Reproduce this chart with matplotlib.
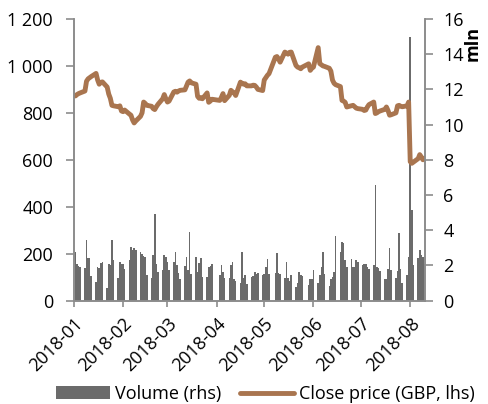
import matplotlib
matplotlib.use('Agg')
import matplotlib.pyplot as plt
from matplotlib.patches import Patch
from matplotlib.lines import Line2D
import pandas as pd

plt.rcParams['font.family'] = ['Open Sans', 'DejaVu Sans']
plt.rcParams['font.size'] = 13

# trading days (UK), Jan 2 - Aug 10 2018
holidays = ['2018-03-30', '2018-04-02', '2018-05-07', '2018-05-28']
days = pd.bdate_range('2018-01-02', '2018-08-10')
days = days[~days.isin(pd.to_datetime(holidays))]

# close price, GBP (left axis), one value per trading day, month by month
close_jan = [872, 878, 882, 885, 893, 935, 945, 950, 955, 968, 940, 922, 930, 932,
             910, 880, 862, 832, 830, 826, 830, 808]
close_feb = [805, 812, 795, 790, 770, 757, 765, 785, 800, 846, 840, 832, 828, 818,
             814, 826, 836, 860, 878, 860]
close_mar = [846, 850, 889, 892, 888, 893, 896, 898, 915, 931, 936, 928, 922, 870,
             862, 865, 860, 885, 845, 850, 858]
close_apr = [853, 866, 882, 852, 875, 896, 890, 885, 874, 931, 926, 922, 924, 915,
             915, 918, 917, 910, 900, 895]
close_may = [940, 950, 960, 967, 1037, 1040, 1030, 1016, 1059, 1055, 1050, 1058, 1059,
             1002, 995, 992, 988, 995, 1009, 981, 990]
close_jun = [995, 1078, 1010, 1005, 1000, 998, 990, 978, 940, 926, 920, 912, 853, 850,
             845, 825, 830, 832, 826, 820, 818]
close_jul = [815, 810, 812, 825, 835, 846, 797, 800, 805, 808, 815, 825, 810, 790,
             792, 800, 830, 832, 828, 826, 830, 846]
close_aug = [592, 585, 590, 605, 622, 612, 600, 606]

# volume, mln shares (right axis)
vol_jan = [2.77, 2.1, 1.96, 1.9, 1.83, 3.45, 2.4, 2.43, 1.4, 1.07, 1.9, 1.85, 2.15, 2.2,
           0.69, 2.07, 2.0, 3.44, 2.3, 1.26, 2.2, 2.1]
vol_feb = [2.05, 1.8, 2.3, 3.06, 2.87, 2.97, 2.9, 2.74, 2.65, 2.53, 2.5, 1.45, 1.3, 2.6,
           4.9, 2.1, 1.6, 1.73, 2.58, 2.45]
vol_mar = [2.2, 1.73, 2.2, 2.77, 2.0, 1.55, 1.25, 1.95, 2.45, 1.75, 3.9, 1.5, 2.45, 1.64,
           2.15, 2.4, 1.35, 1.35, 1.92, 1.95, 2.07]
vol_apr = [1.45, 2.0, 1.64, 1.26, 1.26, 2.0, 2.2, 1.2, 1.13, 1.0, 2.77, 1.3, 1.45, 0.95,
           1.35, 1.4, 1.64, 1.5, 1.55, 1.45]
vol_may = [1.5, 1.9, 2.35, 1.5, 1.55, 2.68, 1.55, 1.5, 1.3, 2.2, 1.3, 1.1, 1.45, 0.75,
           1.0, 1.6, 1.45, 1.4, 0.9, 1.25, 1.2]
vol_jun = [1.75, 1.0, 1.45, 1.9, 2.77, 1.5, 0.8, 1.2, 1.35, 1.65, 3.65, 2.77, 3.3, 3.25,
           2.3, 1.9, 2.34, 1.9, 1.88, 2.3, 2.2]
vol_jul = [2.0, 2.1, 2.05, 1.9, 1.8, 2.0, 6.55, 1.9, 1.85, 1.7, 1.2, 1.25, 1.8, 3.0,
           1.75, 1.3, 1.7, 3.85, 1.8, 1.0, 1.45, 2.45]
vol_aug = [15.0, 5.15, 2.0, 2.4, 2.9, 2.6, 2.5, 2.1]

close = close_jan + close_feb + close_mar + close_apr + close_may + close_jun + close_jul + close_aug
volume = vol_jan + vol_feb + vol_mar + vol_apr + vol_may + vol_jun + vol_jul + vol_aug

left_ticks = [0, 200, 400, 600, 800, 1000, 1200]
left_labels = ['0', '200', '400', '600', '800', '1 000', '1 200']
right_ticks = [0, 2, 4, 6, 8, 10, 12, 14, 16]
months = pd.date_range('2018-01-01', '2018-08-01', freq='MS')
month_labels = [m.strftime('%Y-%m') for m in months]

bar_col = '#6b6b6b'
line_col = '#a9754f'
grey = '#8c8c8c'

fig = plt.figure(figsize=(4.89, 4.04), dpi=100)
ax = fig.add_axes([0.151, 0.256, 0.719, 0.697])
ax2 = ax.twinx()

ax2.bar(days, volume, width=1.0, color=bar_col, linewidth=0)
ax.plot(days, close, color=line_col, lw=3.5, solid_joinstyle='round', solid_capstyle='round')
ax.set_zorder(ax2.get_zorder() + 1)
ax.patch.set_visible(False)

ax.set_ylim(0, 1200)
ax.set_yticks(left_ticks, labels=left_labels)
ax2.set_ylim(0, 16)
ax2.set_yticks(right_ticks)
ax.set_xlim(pd.Timestamp('2018-01-01'), pd.Timestamp('2018-08-10 14:00'))
ax.set_xticks(months, labels=month_labels, rotation=45, ha='right', rotation_mode='anchor')

for a in (ax, ax2):
    a.spines['top'].set_visible(False)
    for s in ('left', 'right', 'bottom'):
        a.spines[s].set_color(grey)
        a.spines[s].set_linewidth(1.2)

ax.tick_params(axis='y', length=6, width=1.2, color=grey, pad=9)
ax2.tick_params(axis='y', length=6, width=1.2, color=grey, pad=7)
ax.tick_params(axis='x', length=4, width=1.2, color=grey, pad=6)

fig.text(0.967, 0.893, 'mln', rotation=90, fontweight='bold', ha='center', va='center')

handles = [Patch(facecolor=bar_col, edgecolor='none'),
           Line2D([], [], color=line_col, lw=3.5, solid_capstyle='round')]
fig.legend(handles, ['Volume (rhs)', 'Close price (GBP, lhs)'], loc='center',
           bbox_to_anchor=(0.543, 0.025), ncol=2, frameon=False, handlelength=3.0,
           handletextpad=0.3, columnspacing=1.0, borderaxespad=0, borderpad=0)

fig.savefig('out.png', dpi=100)
